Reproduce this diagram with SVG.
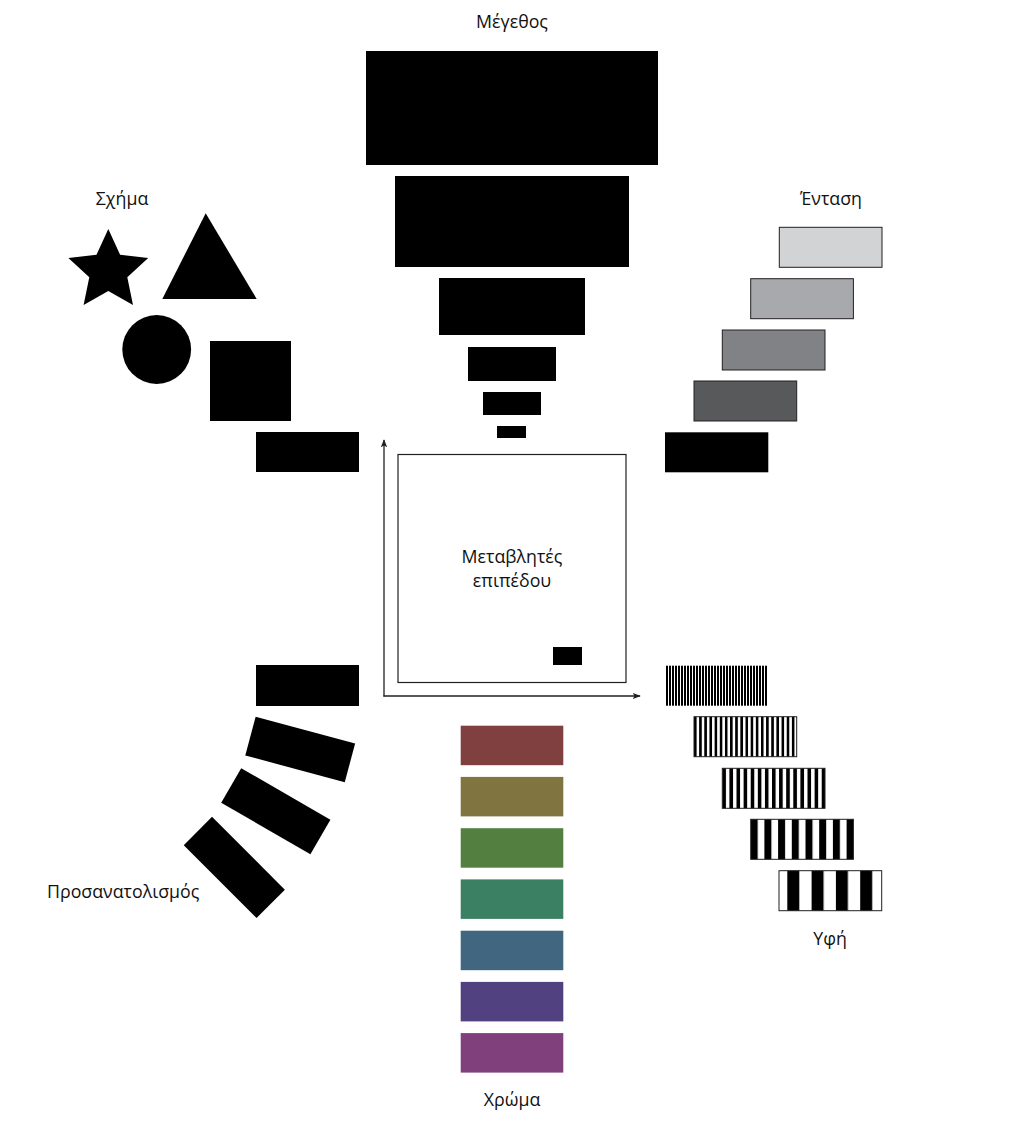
<svg xmlns="http://www.w3.org/2000/svg" width="1024" height="1138" viewBox="0 0 1024 1138">
<style>
text{font-family:"Open Sans","Noto Sans","Liberation Sans",sans-serif;font-size:17.8px;fill:#111}
.c{text-anchor:middle}
.k{fill:#000}
.g{stroke:#231f20;stroke-width:1}
.ax{stroke:#231f20;stroke-width:1.3;fill:none}
</style>
<defs>
<marker id="ah" viewBox="0 0 10 10" refX="9" refY="5" markerWidth="8" markerHeight="8" orient="auto" markerUnits="userSpaceOnUse">
<path d="M0,1 L10,5 L0,9 L2,5 Z" fill="#231f20"/>
</marker>
<pattern id="t1" patternUnits="userSpaceOnUse" x="666" y="0" width="3" height="10"><rect width="3" height="10" fill="#fff"/><rect width="2" height="10" fill="#000"/></pattern>
<pattern id="t2" patternUnits="userSpaceOnUse" x="694" y="0" width="5.15" height="10"><rect width="5.15" height="10" fill="#fff"/><rect width="2.6" height="10" fill="#000"/></pattern>
<pattern id="t3" patternUnits="userSpaceOnUse" x="722.3" y="0" width="7.1" height="10"><rect width="7.1" height="10" fill="#fff"/><rect width="3.6" height="10" fill="#000"/></pattern>
<pattern id="t4" patternUnits="userSpaceOnUse" x="750.7" y="0" width="13.7" height="10"><rect width="13.7" height="10" fill="#fff"/><rect width="7" height="10" fill="#000"/></pattern>
<pattern id="t5" patternUnits="userSpaceOnUse" x="787.3" y="0" width="24.3" height="10"><rect width="24.3" height="10" fill="#fff"/><rect width="12" height="10" fill="#000"/></pattern>
</defs>
<rect width="1024" height="1138" fill="#fff"/>

<g id="size">
<text class="c" x="512" y="28">Μέγεθος</text>
<rect class="k" x="366" y="51" width="292" height="114"/>
<rect class="k" x="395" y="176" width="234" height="91"/>
<rect class="k" x="439" y="278" width="146" height="57"/>
<rect class="k" x="468" y="347" width="88" height="34"/>
<rect class="k" x="483" y="392" width="58" height="23"/>
<rect class="k" x="497" y="426" width="29" height="12"/>
</g>

<g id="shape">
<text class="c" x="122" y="205">Σχήμα</text>
<polygon class="k" points="108.3,229 120.1,254.8 148.2,258 127.3,277.2 133,305 108.3,291 83.6,305 89.3,277.2 68.4,258 96.5,254.8"/>
<polygon class="k" points="205.7,213.3 256.7,299 162.3,299"/>
<circle class="k" cx="156.7" cy="349.5" r="34.4"/>
<rect class="k" x="210" y="341" width="81" height="80"/>
<rect class="k" x="256" y="432" width="103" height="40"/>
</g>

<g id="intensity">
<text class="c" x="831" y="205">Ένταση</text>
<rect class="g" x="779.3" y="227.3" width="102.7" height="40" fill="#d1d3d4"/>
<rect class="g" x="750.7" y="278.7" width="102.7" height="40" fill="#a7a9ac"/>
<rect class="g" x="722.3" y="330" width="102.7" height="40" fill="#808285"/>
<rect class="g" x="694" y="381" width="102.7" height="40" fill="#58595b"/>
<rect class="k" x="665" y="432.3" width="103.3" height="40"/>
</g>

<g id="plane">
<rect x="398" y="454.5" width="228" height="228" fill="#fff" stroke="#231f20" stroke-width="1.2"/>
<text class="c" x="512" y="563">Μεταβλητές</text>
<text class="c" x="512" y="587">επιπέδου</text>
<rect class="k" x="553" y="647" width="29" height="18"/>
</g>

<g id="connectors">
<line class="ax" x1="384" y1="696.5" x2="384" y2="440" marker-end="url(#ah)"/>
<line class="ax" x1="383.4" y1="696" x2="640" y2="696" marker-end="url(#ah)"/>
</g>

<g id="orientation">
<rect class="k" x="256" y="665" width="103" height="41"/>
<rect class="k" x="-51.5" y="-20" width="103" height="40" transform="translate(300.2 749.5) rotate(15)"/>
<rect class="k" x="-51.5" y="-20" width="103" height="40" transform="translate(275.8 811.2) rotate(30)"/>
<rect class="k" x="-51.5" y="-20" width="103" height="40" transform="translate(234.3 867.4) rotate(45)"/>
<text x="47" y="898">Προσανατολισμός</text>
</g>

<g id="texture">
<rect x="666" y="665.7" width="102" height="40" fill="url(#t1)"/>
<rect class="g" x="694" y="716.7" width="102.7" height="40" fill="url(#t2)"/>
<rect class="g" x="722.3" y="768.3" width="102.7" height="40" fill="url(#t3)"/>
<rect class="g" x="750.7" y="819.3" width="102.7" height="40" fill="url(#t4)"/>
<rect class="g" x="779" y="870.7" width="102.7" height="40" fill="url(#t5)"/>
<text class="c" x="830" y="945">Υφή</text>
</g>

<g id="colour">
<rect x="460.7" y="725.7" width="102.6" height="39.5" fill="#80403f"/>
<rect x="460.7" y="776.9" width="102.6" height="39.5" fill="#807540"/>
<rect x="460.7" y="828.2" width="102.6" height="39.5" fill="#538041"/>
<rect x="460.7" y="879.4" width="102.6" height="39.5" fill="#3c8064"/>
<rect x="460.7" y="930.7" width="102.6" height="39.5" fill="#406680"/>
<rect x="460.7" y="981.9" width="102.6" height="39.5" fill="#524180"/>
<rect x="460.7" y="1033.1" width="102.6" height="39.5" fill="#7f407b"/>
<text class="c" x="512" y="1106">Χρώμα</text>
</g>
</svg>
